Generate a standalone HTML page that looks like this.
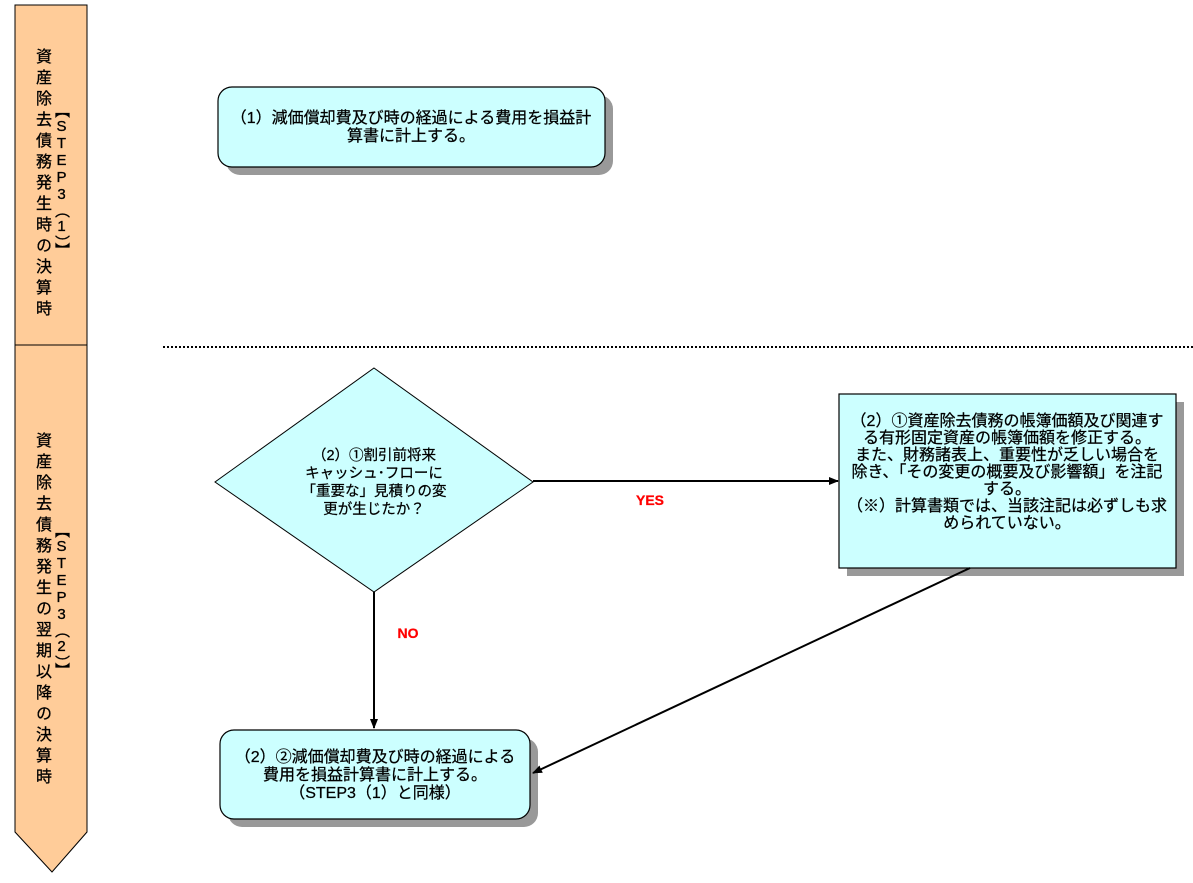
<!DOCTYPE html>
<html><head><meta charset="utf-8"><style>
html,body{margin:0;padding:0;background:#fff;}
body{position:relative;width:1193px;height:883px;overflow:hidden;}
svg{display:block;position:absolute;left:0;top:0;}
text{font-family:"Liberation Sans","Noto Sans CJK JP",sans-serif;font-size:16px;fill:#000;stroke:#000;stroke-width:0.25;}
.vt{position:absolute;writing-mode:vertical-rl;text-orientation:upright;font-family:"Liberation Sans","Noto Sans CJK JP",sans-serif;color:#000;-webkit-text-stroke:0.3px #000;white-space:nowrap;}
.c1{font-size:16px;letter-spacing:5px;width:20px;}
.c2{font-size:15px;letter-spacing:0px;width:18px;line-height:18px;}
</style></head><body>
<svg width="1193" height="883" viewBox="0 0 1193 883">
<defs>
<marker id="ah" markerWidth="10" markerHeight="8" refX="9" refY="4" orient="auto" markerUnits="userSpaceOnUse">
<path d="M0,0 L10,4 L0,8 z" fill="#000"/>
</marker>
</defs>
<rect x="15" y="5" width="72" height="340" fill="#ffcc99" stroke="#000" stroke-width="1"/>
<path d="M15,345 L87,345 L87,832 L52,872 L15,832 z" fill="#ffcc99" stroke="#000" stroke-width="1"/>
<line x1="163" y1="347" x2="1193" y2="347" stroke="#000" stroke-width="2" stroke-dasharray="2,2"/>
<rect x="226" y="95" width="387" height="80" rx="14" fill="#999"/>
<rect x="218" y="87" width="387" height="80" rx="14" fill="#ccffff" stroke="#000" stroke-width="1.2"/>
<text x="411" y="123" text-anchor="middle">（1）減価償却費及び時の経過による費用を損益計</text>
<text x="411" y="141" text-anchor="middle">算書に計上する。</text>
<path d="M374,368 L533,482 L374,592 L215,482 z" fill="#ccffff" stroke="#000" stroke-width="1"/>
<g text-anchor="middle">
<text x="374" y="460" style="font-size:14.5px">（2）①割引前将来</text>
<text x="374" y="478" style="font-size:14.5px">キャッシュ･フローに</text>
<text x="374" y="496" style="font-size:14.5px">「重要な」見積りの変</text>
<text x="374" y="514" style="font-size:14.5px">更が生じたか？</text>
</g>
<rect x="847" y="402" width="337" height="174" fill="#999"/>
<rect x="839" y="394" width="337" height="174" fill="#ccffff" stroke="#000" stroke-width="1.2"/>
<g text-anchor="middle">
<text x="1007" y="426">（2）①資産除去債務の帳簿価額及び関連す</text>
<text x="1007" y="443">る有形固定資産の帳簿価額を修正する。</text>
<text x="1007" y="460">また、財務諸表上、重要性が乏しい場合を</text>
<text x="1007" y="477">除き、「その変更の概要及び影響額」を注記</text>
<text x="1007" y="494">する。</text>
<text x="1007" y="511">（※）計算書類では、当該注記は必ずしも求</text>
<text x="1007" y="528">められていない。</text>
</g>
<rect x="228" y="738" width="310" height="89" rx="14" fill="#999"/>
<rect x="220" y="730" width="310" height="89" rx="14" fill="#ccffff" stroke="#000" stroke-width="1.2"/>
<g text-anchor="middle">
<text x="375" y="762">（2）②減価償却費及び時の経過による</text>
<text x="375" y="780">費用を損益計算書に計上する。</text>
<text x="375" y="798">（STEP3（1）と同様）</text>
</g>
<line x1="533" y1="481" x2="838" y2="481" stroke="#000" stroke-width="2" marker-end="url(#ah)"/>
<line x1="374" y1="592" x2="374" y2="728" stroke="#000" stroke-width="2" marker-end="url(#ah)"/>
<line x1="970" y1="568" x2="533" y2="773" stroke="#000" stroke-width="2" marker-end="url(#ah)"/>
<text x="650" y="505" text-anchor="middle" style="fill:#ff0000;stroke:#ff0000;font-weight:bold;font-size:14px">YES</text>
<text x="408" y="638" text-anchor="middle" style="fill:#ff0000;stroke:#ff0000;font-weight:bold;font-size:14px">NO</text>
</svg>
<div class="vt c1" style="left:33px;top:48px;">資産除去債務発生時の決算時</div>
<div class="vt c2" style="left:52px;top:103px;">【STEP3（1）】</div>
<div class="vt c1" style="left:33px;top:432px;">資産除去債務発生の翌期以降の決算時</div>
<div class="vt c2" style="left:52px;top:523px;">【STEP3（2）】</div>
</body></html>
